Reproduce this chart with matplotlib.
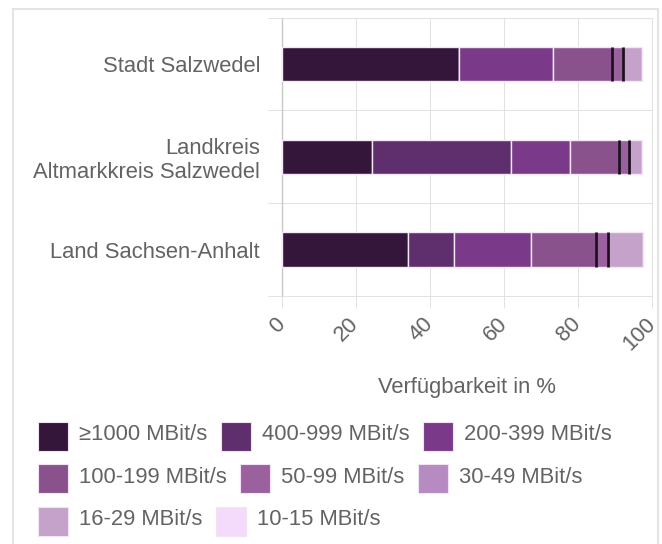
import matplotlib
matplotlib.use("Agg")
import matplotlib.pyplot as plt
from matplotlib.patches import Rectangle
from matplotlib.lines import Line2D
import numpy as np

# Data (share of households in %)
regions = ["Stadt Salzwedel", "Landkreis\nAltmarkkreis Salzwedel", "Land Sachsen-Anhalt"]
classes = ["≥1000 MBit/s", "400-999 MBit/s", "200-399 MBit/s", "100-199 MBit/s",
           "50-99 MBit/s", "30-49 MBit/s", "16-29 MBit/s", "10-15 MBit/s"]
v_1000 = [48.0, 24.3, 34.0]
v_400 = [0.0, 37.6, 12.4]
v_200 = [25.2, 16.0, 21.0]
v_100 = [16.1, 13.3, 17.4]
v_50 = [2.8, 2.5, 3.2]
v_30 = [0.0, 0.0, 0.0]
v_16 = [5.3, 3.6, 9.6]
v_10 = [0.0, 0.0, 0.0]
x_ticks = [0, 20, 40, 60, 80, 100]
x_title = "Verfügbarkeit in %"

series = [v_1000, v_400, v_200, v_100, v_50, v_30, v_16, v_10]
colors = ["#35163b", "#5f2e6c", "#7a3a89", "#8a528d",
          "#9a619e", "#b58bc2", "#c4a2c9", "#f5dbfb"]

W, H = 662, 544
FS = 15.8
TXT = "#636363"
GRID = "#e2e2e2"
plt.rcParams["font.family"] = ["Liberation Sans", "DejaVu Sans"]


def px(x, y):
    """pixel (from top-left) -> figure fraction"""
    return x / W, 1 - y / H


fig = plt.figure(figsize=(W / 100, H / 100), dpi=100)
ax_l, ax_r, ax_t, ax_b = 281.7, 652.0, 17.5, 296.0
ax = fig.add_axes([ax_l / W, 1 - ax_b / H, (ax_r - ax_l) / W, (ax_b - ax_t) / H])
ax.set_xlim(0, 100)
ax.set_ylim(3, 0)
ax.set_axisbelow(True)

y = np.arange(len(regions)) + 0.5
bar_h = 0.37
left = np.zeros(len(regions))
edges_50 = None
for name, vals, c in zip(classes, series, colors):
    vals = np.array(vals)
    ax.barh(y, vals, left=left, height=bar_h, color=c, edgecolor="#f4e8f6",
            linewidth=1.0, zorder=3)
    if name.startswith("50-99"):
        edges_50 = (left.copy(), left + vals)
    left = left + vals

# dark markers at both ends of the 50-99 segment
for xs in edges_50:
    ax.vlines(xs, y - bar_h / 2, y + bar_h / 2, color="#1c1020", lw=2.0, zorder=4)

# axes styling
ax.set_xticks(x_ticks)
ax.set_xticklabels([str(t) for t in x_ticks], rotation=45, ha="right", va="center",
                   rotation_mode="anchor")
ax.tick_params(axis="x", length=8.6, width=0.75, color=GRID, labelsize=FS,
               labelcolor=TXT, pad=9.5)
ax.grid(axis="x", color=GRID, lw=0.75, zorder=0)

ax.set_yticks(y)
ax.set_yticklabels(regions)
ax.set_yticks([0, 1, 2, 3], minor=True)
ax.tick_params(axis="y", which="major", length=0, labelsize=FS, labelcolor=TXT, pad=15.6)
ax.tick_params(axis="y", which="minor", length=10, width=0.75, color=GRID)
ax.grid(axis="y", which="minor", color=GRID, lw=0.75, zorder=0)
for lab in ax.get_yticklabels():
    lab.set_multialignment("right")

for s in ["top", "bottom", "right"]:
    ax.spines[s].set_color(GRID)
    ax.spines[s].set_linewidth(0.75)
ax.spines["left"].set_color("#c8c8c8")
ax.spines["left"].set_linewidth(1.0)

fig.text(*px(466.7, 387), x_title, ha="center", va="center", fontsize=FS, color=TXT)

# outer container frame
frame = dict(transform=fig.transFigure, color="#e4e4e4", lw=1.5)
fig.add_artist(Line2D([12.5 / W, 12.5 / W], [0, 1 - 8.5 / H], **frame))
fig.add_artist(Line2D([12.5 / W, 658 / W], [1 - 8.5 / H, 1 - 8.5 / H], **frame))
fig.add_artist(Line2D([658 / W, 658 / W], [0, 1 - 8.5 / H], **frame))

# legend in flowing rows
renderer = fig.canvas.get_renderer()
rows = [[0, 1, 2], [3, 4, 5], [6, 7]]
for r, idxs in enumerate(rows):
    yc = 436.5 + r * 42.3
    x = 38.0
    for i in idxs:
        x0, y0 = px(x, yc + 14.5)
        fig.add_artist(Rectangle((x0, y0), 30 / W, 29 / H, transform=fig.transFigure,
                                 facecolor=colors[i], edgecolor="#f1e3f4", lw=0.8))
        t = fig.text(*px(x + 41, yc - 1.5), classes[i], ha="left", va="center",
                     fontsize=FS, color=TXT)
        w = t.get_window_extent(renderer).width
        x = x + 41 + w + 13.5

fig.savefig("out.png", dpi=100, facecolor="white")
